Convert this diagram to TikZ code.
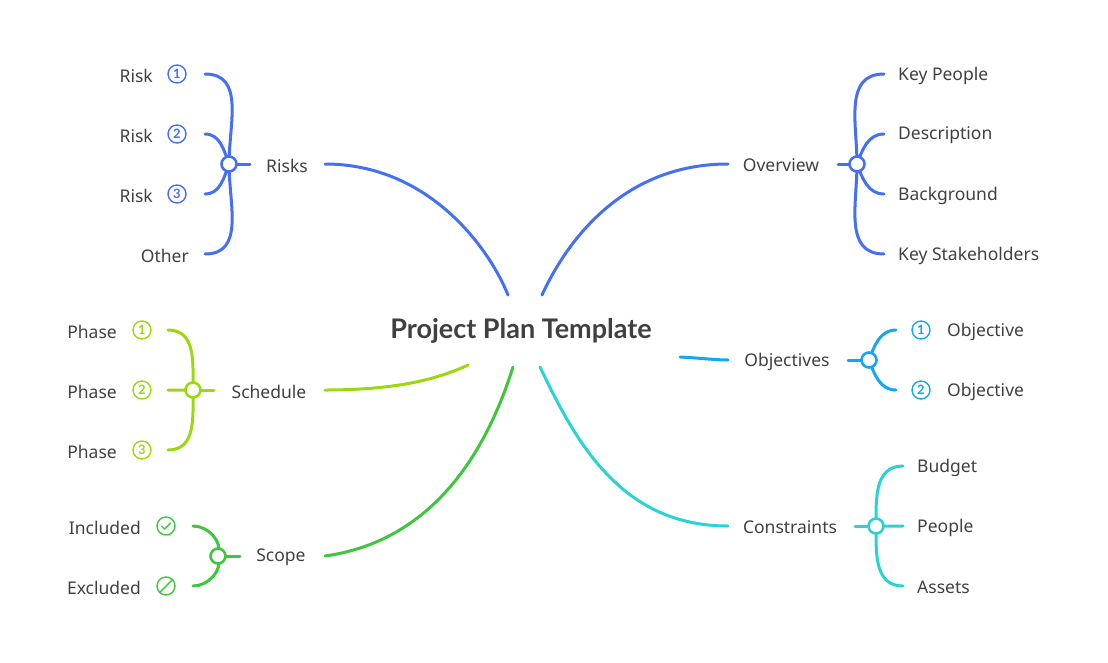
\documentclass[tikz,border=0pt]{standalone}
\usepackage{fontspec}
\setmainfont{Noto Sans}
\newfontfamily\latof{Lato}
\usetikzlibrary{calc}
\begin{document}
\begin{tikzpicture}[x=1pt,y=-1pt,
  lbl/.style={font=\fontsize{17.5}{20}\selectfont,text=black!75,inner sep=0pt,yshift=-1.5pt},
  hub/.style={circle,draw=#1,line width=2.6pt,fill=white,minimum size=15pt,inner sep=0pt},
  ico/.style={circle,draw=#1,line width=1.4pt,minimum size=18pt,inner sep=0pt,text=#1,font=\latof\bfseries\fontsize{13}{13}\selectfont},
  br/.style={draw=#1,line width=3pt,line cap=round}]
\definecolor{cB}{HTML}{4570F4}
\definecolor{cL}{HTML}{9BD80E}
\definecolor{cG}{HTML}{3EC63E}
\definecolor{cS}{HTML}{12A7F0}
\definecolor{cT}{HTML}{2AD3D3}
\useasboundingbox (0,0) rectangle (1108,662);
\node[font=\latof\bfseries\fontsize{27}{28}\selectfont,text=black!75] (title) at (521,331) {Project Plan Template};
\coordinate (tR) at (508,295); \coordinate (tO) at (542,295);
\coordinate (tSc) at (468,365); \coordinate (tSp) at (513,367);
\coordinate (tC) at (540,367); \coordinate (tOb) at (680,357);
% Risks
\node[lbl] (risks) at (287,164) {Risks};
\coordinate (rE) at (325,164);
\draw[br=cB] (rE) .. controls (430,164) and (490,250) .. (tR);
\draw[br=cB] (229,164) coordinate (rc) -- (250,164);
\foreach \y/\n/\t in {74/r1/1,134/r2/2,194/r3/3}{
  \coordinate (\n) at (205,\y);
  \node[lbl,anchor=east] (\n l) at (153,\y) {Risk};
  \node[ico=cB] (\n i) at (177,\y) {\t};
}
\coordinate (r4) at (205,254);
\node[lbl,anchor=east] (r4l) at (189,254) {Other};
\draw[br=cB] (r1) to[out=0,in=90,looseness=1.1] (rc) (r2) to[out=0,in=110] (rc) (r3) to[out=0,in=-110] (rc) (r4) to[out=0,in=-90,looseness=1.1] (rc);
\node[hub=cB] (rh) at (rc) {};
% Overview
\node[lbl] (ov) at (781,164) {Overview};
\coordinate (oE) at (728,164);
\draw[br=cB] (oE) .. controls (620,164) and (565,245) .. (tO);
\draw[br=cB] (838,164) -- (857,164) coordinate (ohc);
\foreach \y/\n/\t in {74/o1/Key People,134/o2/Description,194/o3/Background,254/o4/Key Stakeholders}{
  \coordinate (\n) at (884,\y);
  \node[lbl,anchor=west] (\n l) at (898,\y) {\t};
}
\draw[br=cB] (o1) to[out=180,in=90,looseness=1.1] (ohc) (o2) to[out=180,in=70] (ohc) (o3) to[out=180,in=-70] (ohc) (o4) to[out=180,in=-90,looseness=1.1] (ohc);
\node[hub=cB] (oh) at (ohc) {};
% Objectives
\node[lbl] (ob) at (787,360) {Objectives};
\coordinate (obE) at (728,360);
\draw[br=cS] (tOb) .. controls (700,358) and (715,360) .. (obE);
\draw[br=cS] (848,360) -- (869,360) coordinate (obc);
\foreach \y/\n/\t in {330/b1/1,390/b2/2}{
  \coordinate (\n) at (896,\y);
  \node[ico=cS] (\n i) at (921,\y) {\t};
  \node[lbl,anchor=west] (\n l) at (947,\y) {Objective};
}
\draw[br=cS] (b1) to[out=180,in=70] (obc) (b2) to[out=180,in=-70] (obc);
\node[hub=cS] (obh) at (obc) {};
% Constraints
\node[lbl] (co) at (790,526) {Constraints};
\coordinate (cE) at (728,526);
\draw[br=cT] (cE) .. controls (620,526) and (575,440) .. (tC);
\draw[br=cT] (855,526) -- (876,526) coordinate (cc);
\foreach \y/\n/\t in {466/c1/Budget,526/c2/People,586/c3/Assets}{
  \coordinate (\n) at (903,\y);
  \node[lbl,anchor=west] (\n l) at (917,\y) {\t};
}
\draw[br=cT] (c1) to[out=180,in=90,looseness=1.1] (cc) (c2) -- (cc) (c3) to[out=180,in=-90,looseness=1.1] (cc);
\node[hub=cT] (ch) at (cc) {};
% Schedule
\node[lbl] (sc) at (269,390) {Schedule};
\coordinate (sE) at (325,390);
\draw[br=cL] (sE) .. controls (400,390) and (440,378) .. (tSc);
\draw[br=cL] (193,390) coordinate (sc0) -- (214,390);
\foreach \y/\n/\t in {330/s1/1,390/s2/2,450/s3/3}{
  \coordinate (\n) at (168,\y);
  \node[ico=cL] (\n i) at (142,\y) {\t};
  \node[lbl,anchor=east] (\n l) at (117,\y) {Phase};
}
\draw[br=cL] (s1) to[out=0,in=90,looseness=1.1] (sc0) (s2) -- (sc0) (s3) to[out=0,in=-90,looseness=1.1] (sc0);
\node[hub=cL] (sh) at (sc0) {};
% Scope
\node[lbl] (sp) at (281,556) {Scope};
\coordinate (pE) at (325,556);
\draw[br=cG] (pE) .. controls (440,540) and (490,440) .. (tSp);
\draw[br=cG] (218,556) coordinate (pc) -- (240,556);
\coordinate (p1) at (193,526); \coordinate (p2) at (193,586);
\node[ico=cG] (p1i) at (166,526) {};
\draw[cG,line width=1.4pt,line cap=round,line join=round] ($(p1i)+(-4.5,0)$) -- ($(p1i)+(-1.5,3)$) -- ($(p1i)+(4.5,-3)$);
\node[lbl,anchor=east] (p1l) at (141,526) {Included};
\node[ico=cG] (p2i) at (166,586) {};
\draw[cG,line width=1.4pt] (p2i.north east) -- (p2i.south west);
\node[lbl,anchor=east] (p2l) at (141,586) {Excluded};
\draw[br=cG] (p1) to[out=0,in=70] (pc) (p2) to[out=0,in=-70] (pc);
\node[hub=cG] (ph) at (pc) {};
\end{tikzpicture}
\end{document}
